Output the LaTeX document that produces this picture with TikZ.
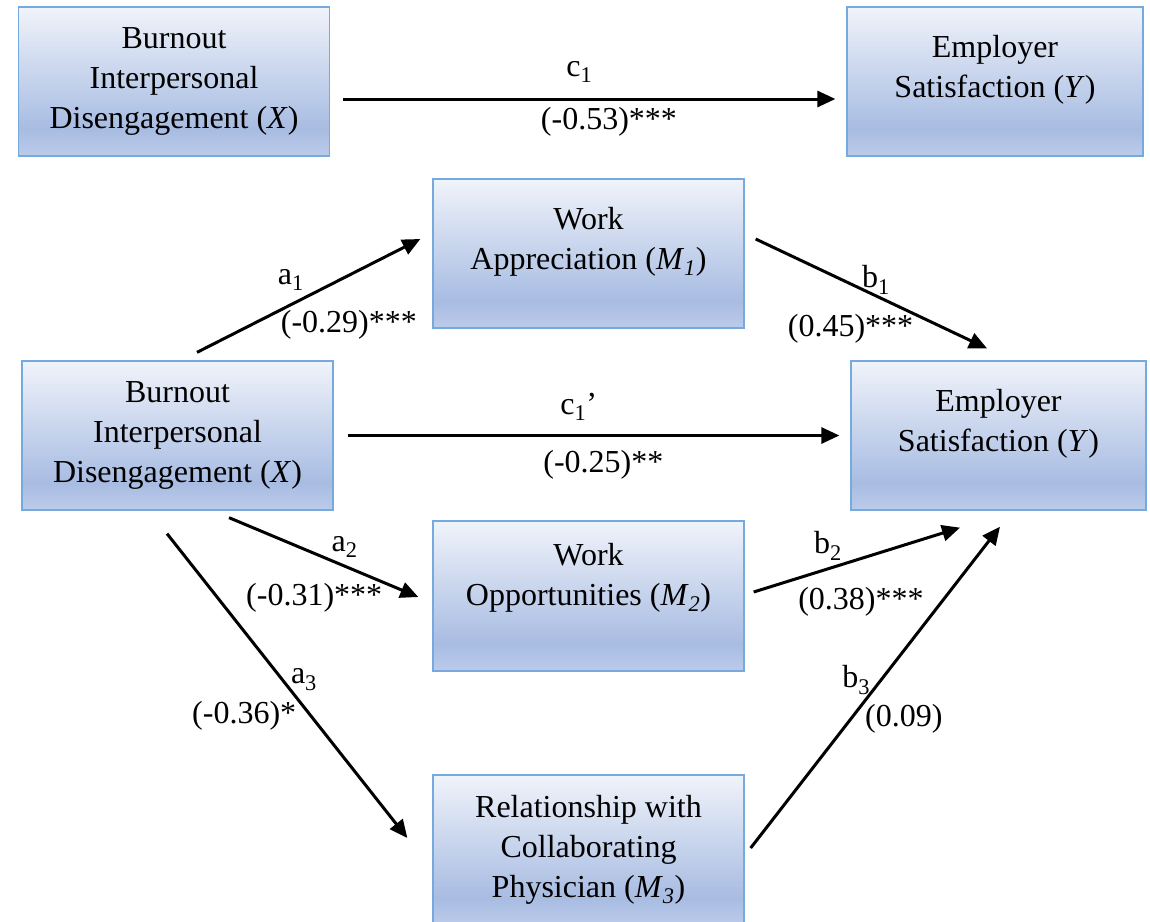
\documentclass[tikz,border=0pt]{standalone}
\usepackage{fontspec}
\setmainfont{Liberation Serif}
\usetikzlibrary{positioning, calc, arrows.meta}
\definecolor{boxtop}{RGB}{240,243,250}
\definecolor{boxlow}{RGB}{168,188,226}
\definecolor{boxbot}{RGB}{188,203,234}
\definecolor{boxline}{RGB}{118,170,222}
\pgfdeclareverticalshading{boxshade}{100bp}{color(0bp)=(boxbot); color(25bp)=(boxbot); color(34bp)=(boxlow); color(75bp)=(boxtop); color(100bp)=(boxtop)}
\tikzset{vbox/.style={draw=boxline, line width=1.3pt, shading=boxshade, minimum width=311pt, minimum height=149pt, inner sep=0pt}}
\tikzset{vtxt/.style={align=center, font=\fontsize{32}{40}\selectfont}}
\tikzset{arr/.style={draw, line width=3pt, -{Triangle[length=18pt, width=16pt]}}}
\tikzset{lbl/.style={font=\fontsize{32}{40}\selectfont, inner sep=0pt}}

\begin{document}
\begin{tikzpicture}[x=1pt, y=-1pt]
	\useasboundingbox (0,0) rectangle (1150,921);

	% total effect
	\node[vbox, vtxt] (Xt) at (174,81.5) {Burnout\\Interpersonal\\Disengagement (\textit{X})};
	\node[vbox, minimum width=296pt, label={[vtxt, yshift=12pt]center:{Employer\\Satisfaction (\textit{Y})}}] (Yt) at (995,81.5) {};

	% mediation model
	\node[vbox, vtxt] (Xm) at (177.5,435.5) {Burnout\\Interpersonal\\Disengagement (\textit{X})};
	\node[vbox, minimum width=295pt, label={[vtxt, yshift=12pt]center:{Employer\\Satisfaction (\textit{Y})}}] (Ym) at (998.5,435.5) {};
	\node[vbox, label={[vtxt, yshift=12pt]center:{Work\\Appreciation (\textit{M}\textsubscript{\textit{1}})}}] (M1) at (588.5,253.5) {};
	\node[vbox, minimum height=150pt, label={[vtxt, yshift=18pt]center:{Work\\Opportunities (\textit{M}\textsubscript{\textit{2}})}}] (M2) at (588.5,596) {};
	\node[vbox, vtxt, minimum height=150pt] (M3) at (588.5,850) {Relationship with\\Collaborating\\Physician (\textit{M}\textsubscript{\textit{3}})};

	\draw[arr] ([xshift=13pt,yshift=-17.5pt]Xt.east) -- node[lbl, pos=0.48, yshift=27pt]{c\textsubscript{1}} node[lbl, pos=0.54, yshift=-23pt]{(-0.53)***} ([xshift=-11pt,yshift=-17.5pt]Yt.west);

	\draw[arr] ([xshift=19.5pt,yshift=8pt]Xm.north) -- node[lbl, pos=0.42, yshift=25pt]{a\textsubscript{1}} node[lbl, pos=0.68, yshift=-50pt]{(-0.29)***} ([xshift=-12pt,yshift=14.5pt]M1.west);
	\draw[arr] ([xshift=11pt,yshift=14.5pt]M1.east) -- node[lbl, pos=0.52, yshift=16pt]{b\textsubscript{1}} node[lbl, pos=0.41, yshift=-45pt]{(0.45)***} ([xshift=-11.5pt,yshift=12pt]Ym.north);
	\draw[arr] ([xshift=14pt]Xm.east) -- node[lbl, pos=0.47, yshift=29pt]{c\textsubscript{1}'} node[lbl, pos=0.52, yshift=-29pt]{(-0.25)**} ([xshift=-11pt]Ym.west);
	\draw[arr] ([xshift=51.5pt,yshift=-7pt]Xm.south) -- node[lbl, pos=0.61, yshift=19pt]{a\textsubscript{2}} node[lbl, pos=0.45, yshift=-44pt]{(-0.31)***} ([xshift=-14pt,yshift=-1pt]M2.west);
	\draw[arr] ([xshift=-10.5pt,yshift=-23pt]Xm.south) -- node[lbl, pos=0.47, xshift=24pt, yshift=-3pt]{a\textsubscript{3}} node[lbl, pos=0.6, xshift=-67pt]{(-0.36)*} ([xshift=-25pt,yshift=12pt]M3.west);
	\draw[arr] ([xshift=9pt,yshift=4pt]M2.east) -- node[lbl, pos=0.36, yshift=23pt]{b\textsubscript{2}} node[lbl, pos=0.52, yshift=-43pt]{(0.38)***} ([xshift=-38.5pt,yshift=-17pt]Ym.south);
	\draw[arr] ([xshift=6pt,yshift=2pt]M3.east) -- node[lbl, pos=0.52, xshift=-24pt, yshift=1pt]{b\textsubscript{3}} node[lbl, pos=0.41, xshift=51pt, yshift=-3pt]{(0.09)} ([xshift=1.5pt,yshift=-16pt]Ym.south);
\end{tikzpicture}
\end{document}
